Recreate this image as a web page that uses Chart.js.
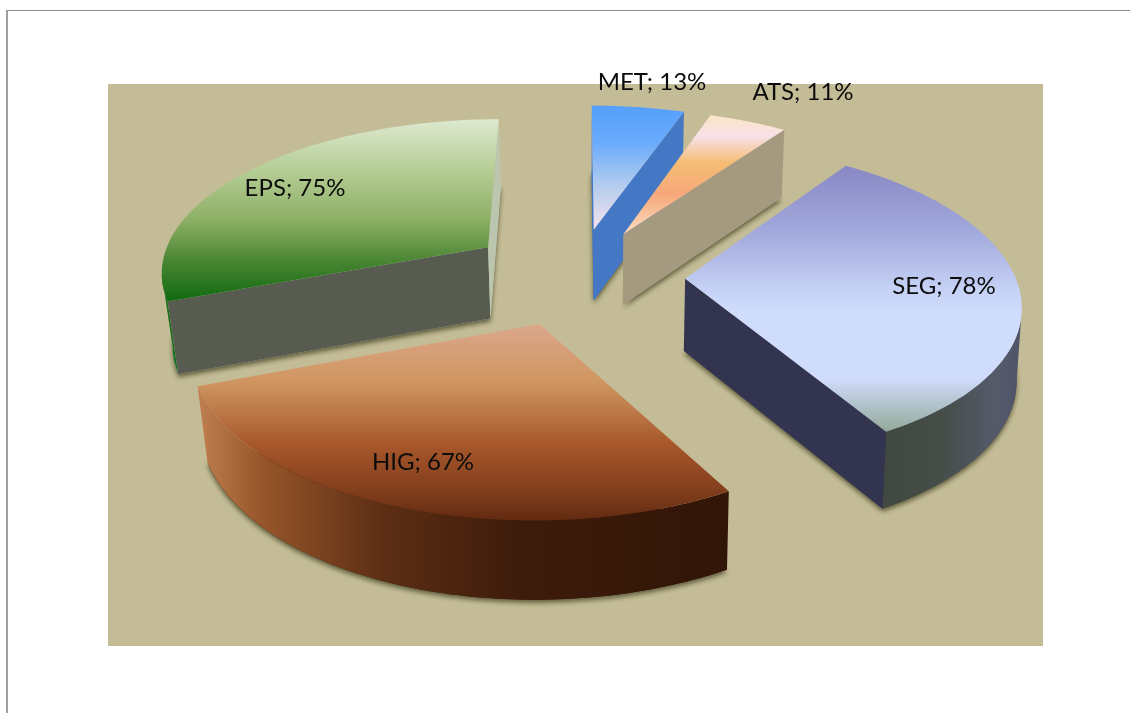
<!DOCTYPE html>
<html>
<head>
<meta charset="utf-8">
<title>Pie</title>
<script src="https://cdn.jsdelivr.net/npm/chart.js@4"></script>
<style>
  html, body { margin: 0; padding: 0; background: #fff; overflow: hidden; }
  #frame { position: absolute; left: 6px; top: 10px; right: 0; bottom: 0; border-left: 2px solid #a0a0a0; border-top: 1px solid #8c8c8c; }
  #pie { position: absolute; left: 0; top: 0; }
</style>
</head>
<body>
<div id="frame"></div>
<canvas id="pie" width="1130" height="713"></canvas>
<script>
// data
const categories = ["MET", "ATS", "SEG", "HIG", "EPS"];
const percentValues = [13, 11, 78, 67, 75];

// camera for the tilted pie, ground plane is in chart pixels
const CAMERA_HEIGHT = 1090;
const CAMERA_DIST = 2340;
const WALL_HEIGHT = 72;
const PIE_RADIUS = 330;
const EXPLODE = [105, 105, 108, 105, 111];

const plotRect = { left: 108, top: 84, right: 1043, bottom: 646, color: "#c4bc96" };

// look of each slice, same order as categories
const sliceStyles = [
  {
    top: [[0, "#559ffb"], [0.3, "#6aabfb"], [0.65, "#b4cdee"], [1, "#f5e3ee"]],
    startFace: "#4477c4", endFace: "#4477c4", wall: [[0, "#4477c4"], [1, "#4477c4"]],
  },
  {
    top: [[0, "#fbe6c8"], [0.18, "#f8e0e6"], [0.4, "#f5bd74"], [0.66, "#f7a87a"], [1, "#fbdcc0"]],
    startFace: "#a59a80", endFace: "#a59a80", wall: [[0, "#a59a80"], [1, "#a59a80"]],
  },
  {
    top: [[0, "#8888c4"], [0.25, "#a2a9dc"], [0.47, "#c6d2f6"], [0.55, "#d0dcfb"], [0.8, "#d0dcfb"], [1, "#93a99a"]],
    startFace: "#33344f", endFace: "#33344f", wall: [[0, "#404840"], [0.4, "#454d48"], [0.8, "#555a6a"], [1, "#50546a"]],
  },
  {
    top: [[0, "#dba78c"], [0.3, "#cf955f"], [0.62, "#a6562a"], [0.85, "#823e1c"], [1, "#622a10"]],
    startFace: "#3a1a0a", endFace: "#3a1a0a", wall: [[0, "#c08050"], [0.12, "#97562a"], [0.35, "#5c2e14"], [0.6, "#3e1c0b"], [1, "#311507"]],
  },
  {
    top: [[0, "#dde9d0"], [0.25, "#b9d09a"], [0.55, "#8eb066"], [0.8, "#43822f"], [1, "#116a10"]],
    startFace: "#585c50", endFace: "#bcc6ae", wall: [[0, "#16701a"], [1, "#16701a"]],
  },
];

// the labels were moved by hand in the original chart, so they have their own spots
const labelSpots = [[652, 82], [803, 92], [944, 286], [423, 462], [295, 188]];
const DRAW_ORDER = [0, 1, 4, 2, 3];

// ground point -> screen point; height 0 is the top of the slice, 1 the bottom
function project(cx, cy, u, v, height) {
  const s = CAMERA_DIST / (CAMERA_DIST - v);
  // verticals lean in a bit going down, more on the left than on the right
  const taper = 1 - (u < 0 ? 0.026 : 0.012) * height;
  return {
    x: cx + u * s * taper,
    y: cy + CAMERA_HEIGHT * (s - 1) + height * WALL_HEIGHT * (0.55 + 0.45 * s),
  };
}

function sliceOutline(arc) {
  const mid = (arc.startAngle + arc.endAngle) / 2;
  const off = arc.options.offset;
  const ox = Math.cos(mid) * off;
  const oy = Math.sin(mid) * off;
  const rimTop = [];
  const rimBottom = [];
  const wallTop = [];
  const wallBottom = [];
  const steps = Math.ceil((arc.endAngle - arc.startAngle) / 0.02);
  for (let i = 0; i <= steps; i++) {
    const a = arc.startAngle + (arc.endAngle - arc.startAngle) * (i / steps);
    const u = ox + Math.cos(a) * arc.outerRadius;
    const v = oy + Math.sin(a) * arc.outerRadius;
    const top = project(arc.x, arc.y, u, v, 0);
    const bottom = project(arc.x, arc.y, u, v, 1);
    rimTop.push(top);
    rimBottom.push(bottom);
    // only the part of the wall that faces the camera
    if (Math.cos(a) * -u + Math.sin(a) * (CAMERA_DIST - v) > 0) {
      wallTop.push(top);
      wallBottom.push(bottom);
    }
  }
  return {
    rimTop,
    rimBottom,
    wallTop,
    wallBottom,
    apexTop: project(arc.x, arc.y, ox, oy, 0),
    apexBottom: project(arc.x, arc.y, ox, oy, 1),
  };
}

// a cut face shows when the slice top lies above its edge
function faceVisible(apex, rimPoint, inside) {
  const ex = rimPoint.x - apex.x;
  const ey = rimPoint.y - apex.y;
  const cross = ex * (inside.y - apex.y) - ey * (inside.x - apex.x);
  return cross * ex < 0;
}

function fillPoly(ctx, pts, fill) {
  ctx.beginPath();
  pts.forEach((p, i) => (i ? ctx.lineTo(p.x, p.y) : ctx.moveTo(p.x, p.y)));
  ctx.closePath();
  ctx.fillStyle = fill;
  ctx.fill();
}

function stopsGradient(ctx, stops, x0, y0, x1, y1) {
  const g = ctx.createLinearGradient(x0, y0, x1, y1);
  stops.forEach(([at, color]) => g.addColorStop(at, color));
  return g;
}

const pie3dPlugin = {
  id: "pie3d",
  beforeDraw(chart) {
    const ctx = chart.ctx;
    ctx.fillStyle = plotRect.color;
    ctx.fillRect(plotRect.left, plotRect.top, plotRect.right - plotRect.left, plotRect.bottom - plotRect.top);
  },
  // the library lays out the arcs, the tilted drawing happens here
  beforeDatasetsDraw(chart) {
    const ctx = chart.ctx;
    const arcs = chart.getDatasetMeta(0).data;

    DRAW_ORDER.forEach((index) => {
      const style = sliceStyles[index];
      const o = sliceOutline(arcs[index]);
      const last = o.rimTop.length - 1;
      const inside = o.rimTop[Math.floor(last / 2)];

      // soft shadow comes from the foot of the slice
      ctx.save();
      ctx.shadowColor = "rgba(60,60,30,0.75)";
      ctx.shadowBlur = 5;
      ctx.shadowOffsetX = 0;
      ctx.shadowOffsetY = 3;
      fillPoly(ctx, o.rimBottom.concat([o.apexBottom]), style.endFace);
      ctx.restore();

      if (o.wallTop.length > 1) {
        const xs = o.wallTop.map((p) => p.x);
        const wallFill = stopsGradient(ctx, style.wall, Math.min(...xs), 0, Math.max(...xs), 0);
        fillPoly(ctx, o.wallTop.concat(o.wallBottom.slice().reverse()), wallFill);
      }
      if (faceVisible(o.apexTop, o.rimTop[0], inside)) {
        fillPoly(ctx, [o.apexTop, o.rimTop[0], o.rimBottom[0], o.apexBottom], style.startFace);
      }
      if (faceVisible(o.apexTop, o.rimTop[last], inside)) {
        fillPoly(ctx, [o.apexTop, o.rimTop[last], o.rimBottom[last], o.apexBottom], style.endFace);
      }

      const all = o.rimTop.concat([o.apexTop]);
      const ys = all.map((p) => p.y);
      fillPoly(ctx, all, stopsGradient(ctx, style.top, 0, Math.min(...ys), 0, Math.max(...ys)));
    });
    return false;
  },
  afterDraw(chart) {
    const ctx = chart.ctx;
    const values = chart.data.datasets[0].data;
    ctx.save();
    ctx.font = '24px Lato, "Open Sans", sans-serif';
    ctx.fillStyle = "#0c0c0c";
    ctx.textAlign = "center";
    ctx.textBaseline = "middle";
    chart.data.labels.forEach((name, i) => {
      ctx.fillText(name + "; " + values[i] + "%", labelSpots[i][0], labelSpots[i][1]);
    });
    ctx.restore();
  },
};

const ctx = document.getElementById("pie").getContext("2d");
const pieChart = new Chart(ctx, {
  type: "pie",
  data: {
    labels: categories,
    datasets: [
      {
        data: percentValues,
        offset: EXPLODE,
        borderWidth: 0,
        backgroundColor: sliceStyles.map((s) => s.top[0][1]),
      },
    ],
  },
  options: {
    responsive: false,
    animation: false,
    radius: PIE_RADIUS,
    rotation: 0,
    // puts the middle of the pie where the slices fan out from
    layout: { padding: { left: 24, right: 0, top: 0, bottom: 161 } },
    plugins: { legend: { display: false }, tooltip: { enabled: false } },
  },
  plugins: [pie3dPlugin],
});
</script>
</body>
</html>
